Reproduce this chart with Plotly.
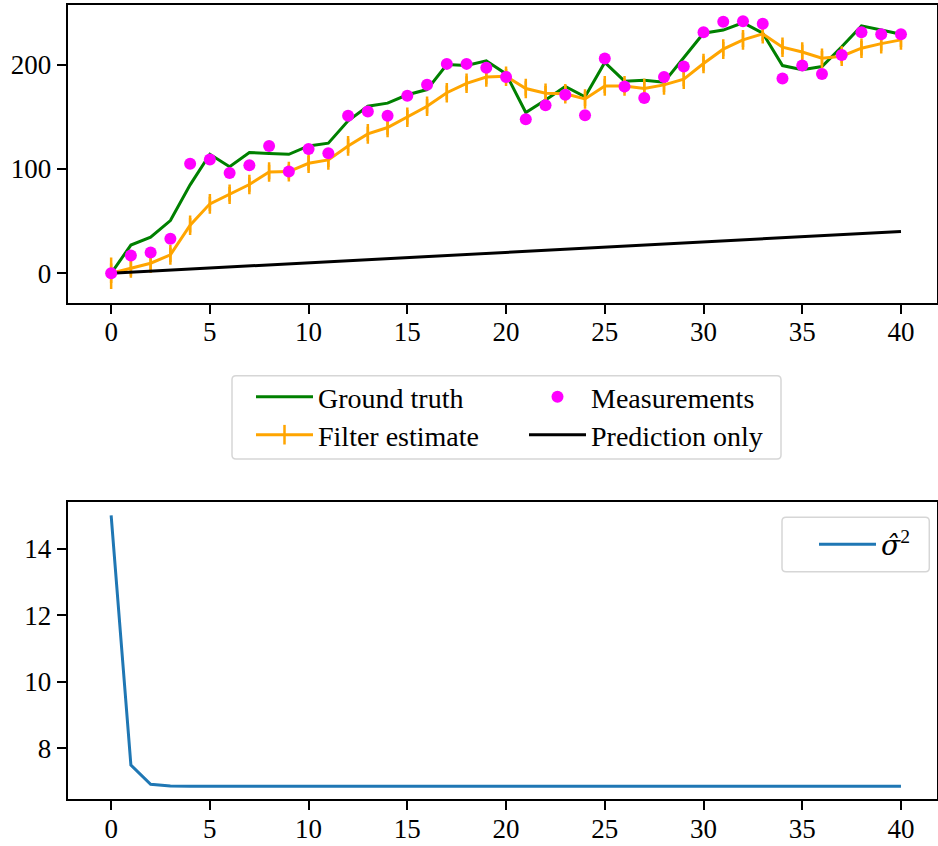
import plotly.graph_objects as go

steps = list(range(41))
ground_truth = [0, 27, 34.5, 50.5, 84.7, 114, 102, 115.7, 114.7, 114, 122, 124.6, 146, 160, 163, 171, 176,
                200, 199, 203.5, 191, 154, 166, 179, 169, 202, 184, 185, 183, 207, 230, 233, 240, 230,
                199, 195, 198, 217, 237, 233, 229]
measurements = [0, 17, 20, 33, 105, 109, 96, 103.5, 122, 97.4, 119, 115, 151, 155, 151, 170, 180.5,
                200.6, 200.6, 197, 188, 147.6, 161, 171, 151.4, 205.8, 179, 168, 188, 198, 231, 241,
                241.5, 239, 186.6, 199, 191, 209, 231, 229, 229]
filter_estimate = [0, 5, 9.6, 17.6, 46, 66.5, 75.7, 85, 97, 97.4, 105.4, 108.6, 122, 133.5, 139.6, 149.5,
                   160, 173, 182, 188, 188.8, 177, 172.5, 172, 167, 179.5, 179.5, 177, 180.5, 186, 201,
                   214.7, 223.6, 229.4, 216.6, 212, 206, 208, 215.6, 220, 223.6]
prediction_only = [0, 1, 2, 3, 4, 5, 6, 7, 8, 9, 10, 11, 12, 13, 14, 15, 16, 17, 18, 19, 20,
                   21, 22, 23, 24, 25, 26, 27, 28, 29, 30, 31, 32, 33, 34, 35, 36, 37, 38, 39, 40]
sigma2 = [15.0, 7.5, 6.92, 6.87, 6.86, 6.86, 6.86, 6.86, 6.86, 6.86, 6.86, 6.86, 6.86, 6.86,
          6.86, 6.86, 6.86, 6.86, 6.86, 6.86, 6.86, 6.86, 6.86, 6.86, 6.86, 6.86, 6.86, 6.86,
          6.86, 6.86, 6.86, 6.86, 6.86, 6.86, 6.86, 6.86, 6.86, 6.86, 6.86, 6.86, 6.86]
x_ticks = [0, 5, 10, 15, 20, 25, 30, 35, 40]
y_ticks_top = [0, 100, 200]
y_ticks_bottom = [8, 10, 12, 14]

W, H = 938, 846
FONT = "Liberation Serif"
FS = 27
LFS = 28


def rounded_box(x0, y0, x1, y1, r):
    """Legend frame path (pixel corners -> paper fractions)."""
    def p(x, y):
        return f"{x / W:.5f},{1 - y / H:.5f}"
    return (f"M{p(x0 + r, y0)} L{p(x1 - r, y0)} Q{p(x1, y0)} {p(x1, y0 + r)} "
            f"L{p(x1, y1 - r)} Q{p(x1, y1)} {p(x1 - r, y1)} L{p(x0 + r, y1)} "
            f"Q{p(x0, y1)} {p(x0, y1 - r)} L{p(x0, y0 + r)} Q{p(x0, y0)} {p(x0 + r, y0)} Z")


fig = go.Figure()
fig.add_trace(go.Scatter(x=steps, y=ground_truth, mode="lines", name="Ground truth",
                         line=dict(color="#008000", width=3), legend="legend",
                         xaxis="x", yaxis="y"))
fig.add_trace(go.Scatter(x=steps, y=filter_estimate, mode="lines+markers", name="Filter estimate",
                         line=dict(color="#FFA500", width=3),
                         marker=dict(symbol="line-ns", size=14, color="#FFA500",
                                     line=dict(color="#FFA500", width=2.5)),
                         error_y=dict(type="data", array=sigma2, visible=True, color="#FFA500",
                                      thickness=2.5, width=0),
                         legend="legend2", xaxis="x", yaxis="y"))
fig.add_trace(go.Scatter(x=steps, y=prediction_only, mode="lines", name="Prediction only",
                         line=dict(color="black", width=3), legend="legend2",
                         xaxis="x", yaxis="y"))
fig.add_trace(go.Scatter(x=steps, y=measurements, mode="markers", name="Measurements",
                         marker=dict(color="#FF00FF", size=12), legend="legend",
                         xaxis="x", yaxis="y"))
fig.add_trace(go.Scatter(x=steps, y=sigma2, mode="lines",
                         name="<span style=\"font-family:DejaVu Serif;font-style:italic\">σ̂</span><sup>2</sup>",
                         line=dict(color="#1f77b4", width=3), legend="legend3",
                         xaxis="x2", yaxis="y2"))

axis_common = dict(showgrid=False, zeroline=False, showline=True, mirror=True,
                   linecolor="black", linewidth=2, ticks="outside", ticklen=9,
                   tickwidth=2, tickcolor="black", automargin=False,
                   tickfont=dict(family=FONT, size=FS, color="black"))

xdom = [67.7 / W, 936.5 / W]
leg_common = dict(orientation="h", xanchor="left", yanchor="middle", entrywidth=201,
                  entrywidthmode="pixels", bgcolor="rgba(0,0,0,0)", borderwidth=0,
                  font=dict(family=FONT, size=LFS), itemwidth=57, traceorder="normal")
fig.update_layout(
    width=W, height=H, margin=dict(l=0, r=0, t=0, b=0),
    paper_bgcolor="white", plot_bgcolor="white",
    font=dict(family=FONT, size=FS, color="black"),
    xaxis=dict(domain=xdom, range=[-2.2, 41.8], tickvals=x_ticks, anchor="y",
               ticklabelstandoff=-5, **axis_common),
    yaxis=dict(domain=[1 - 302.7 / H, 1 - 4.7 / H], range=[-28.2, 257.3], tickvals=y_ticks_top,
               anchor="x", **axis_common),
    xaxis2=dict(domain=xdom, range=[-2.2, 41.8], tickvals=x_ticks, anchor="y2",
                ticklabelstandoff=-5, **axis_common),
    yaxis2=dict(domain=[1 - 799.3 / H, 1 - 501.7 / H], range=[6.47, 15.41], tickvals=y_ticks_bottom,
                anchor="x2", **axis_common),
    legend=dict(x=251 / W, y=1 - 397 / H, **leg_common),
    legend2=dict(x=251 / W, y=1 - 435 / H, **leg_common),
    legend3=dict(x=814 / W, y=1 - 544.5 / H, xanchor="left", yanchor="middle",
                 bgcolor="rgba(0,0,0,0)", borderwidth=0,
                 font=dict(family=FONT, size=LFS), itemwidth=57),
    shapes=[
        dict(type="path", xref="paper", yref="paper", path=rounded_box(232, 375.7, 781, 459, 4),
             line=dict(color="#d6d6d6", width=1.5), fillcolor="rgba(255,255,255,0.8)", layer="below"),
        dict(type="path", xref="paper", yref="paper", path=rounded_box(782, 517.3, 929.3, 571.7, 4),
             line=dict(color="#d6d6d6", width=1.5), fillcolor="rgba(255,255,255,0.8)", layer="above"),
    ],
)

fig.write_html("out.html")
